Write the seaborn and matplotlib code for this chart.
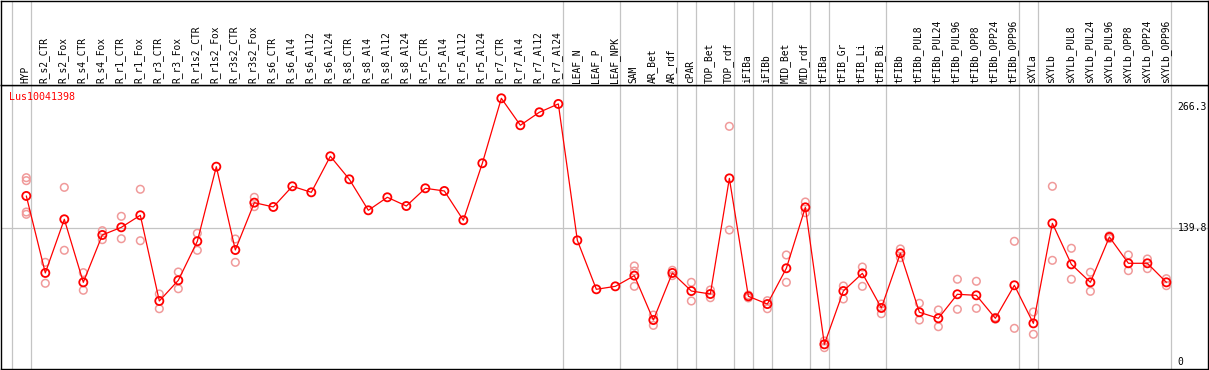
import pandas as pd
import matplotlib
matplotlib.use("Agg")
import matplotlib.pyplot as plt
import seaborn as sns

# sample names along the top
labels = ["HYP", "R_s2_CTR", "R_s2_Fox", "R_s4_CTR", "R_s4_Fox", "R_r1_CTR", "R_r1_Fox",
          "R_r3_CTR", "R_r3_Fox", "R_r1s2_CTR", "R_r1s2_Fox", "R_r3s2_CTR", "R_r3s2_Fox",
          "R_s6_CTR", "R_s6_Al4", "R_s6_Al12", "R_s6_Al24", "R_s8_CTR", "R_s8_Al4",
          "R_s8_Al12", "R_s8_Al24", "R_r5_CTR", "R_r5_Al4", "R_r5_Al12", "R_r5_Al24",
          "R_r7_CTR", "R_r7_Al4", "R_r7_Al12", "R_r7_Al24", "LEAF_N", "LEAF_P", "LEAF_NPK",
          "SAM", "AR_Bet", "AR_rdf", "cPAR", "TOP_Bet", "TOP_rdf", "iFIBa", "iFIBb",
          "MID_Bet", "MID_rdf", "tFIBa", "tFIB_Gr", "tFIB_Li", "tFIB_Bi", "tFIBb",
          "tFIBb_PUL8", "tFIBb_PUL24", "tFIBb_PUL96", "tFIBb_OPP8", "tFIBb_OPP24",
          "tFIBb_OPP96", "sXYLa", "sXYLb", "sXYLb_PUL8", "sXYLb_PUL24", "sXYLb_PUL96",
          "sXYLb_OPP8", "sXYLb_OPP24", "sXYLb_OPP96"]

# mean expression per sample
means = [173.6, 93.1, 149.2, 83.3, 132.8, 140.8, 153.4, 63.8, 85.4, 126.2, 204.2, 117.1,
         166.6, 162.1, 183.7, 177.4, 215.1, 191.0, 158.6, 172.2, 163.1, 181.6, 178.8,
         148.2, 207.8, 275.7, 247.5, 261.1, 269.8, 127.2, 76.0, 79.1, 90.3, 43.9, 93.1,
         74.2, 71.1, 192.0, 68.7, 60.6, 98.0, 161.7, 18.5, 74.2, 92.7, 56.5, 113.7, 52.0,
         45.7, 70.8, 69.7, 45.7, 80.2, 40.4, 145.0, 102.1, 83.3, 130.7, 103.2, 103.2, 83.3]

# single replicates (only those visible)
replicates = {
    "HYP": [192.7, 189.6, 156.8, 154.4],
    "R_s2_CTR": [104.2, 82.3],
    "R_s2_Fox": [182.6, 116.8],
    "R_s4_CTR": [93.4, 75.0],
    "R_s4_Fox": [137.3, 127.9],
    "R_r1_CTR": [152.3, 128.9],
    "R_r1_Fox": [180.6, 126.8],
    "R_r3_CTR": [71.1, 55.7],
    "R_r3_Fox": [94.1, 76.6],
    "R_r1s2_CTR": [134.6, 116.8],
    "R_r3s2_CTR": [128.6, 104.2],
    "R_r3s2_Fox": [172.2, 162.4],
    "SAM": [100.4, 95.1, 79.1],
    "AR_Bet": [49.1, 38.3],
    "AR_rdf": [95.9, 90.3],
    "cPAR": [83.3, 63.8],
    "TOP_Bet": [75.3, 67.2],
    "TOP_rdf": [246.4, 138.0],
    "iFIBa": [70.0, 67.0],
    "iFIBb": [64.1, 55.7],
    "MID_Bet": [111.9, 83.3],
    "MID_rdf": [167.3, 156.1],
    "tFIBa": [22.0, 15.0],
    "tFIB_Gr": [79.5, 65.9],
    "tFIB_Li": [99.3, 79.1],
    "tFIB_Bi": [60.6, 50.5],
    "tFIBb": [118.2, 109.1],
    "tFIBb_PUL8": [61.4, 43.9],
    "tFIBb_PUL24": [54.4, 36.9],
    "tFIBb_PUL96": [86.5, 55.1],
    "tFIBb_OPP8": [84.4, 56.1],
    "tFIBb_OPP24": [46.6, 44.8],
    "tFIBb_OPP96": [126.2, 35.2],
    "sXYLa": [52.3, 29.0],
    "sXYLb": [183.7, 106.3],
    "sXYLb_PUL8": [118.9, 86.5],
    "sXYLb_PUL24": [93.8, 73.9],
    "sXYLb_PUL96": [131.9, 129.1],
    "sXYLb_OPP8": [111.9, 95.5],
    "sXYLb_OPP24": [107.7, 97.6],
    "sXYLb_OPP96": [87.1, 79.8],
}

# group separators come after these samples
group_ends = ["HYP", "R_r7_Al24", "LEAF_NPK", "AR_rdf", "cPAR", "TOP_rdf", "iFIBa",
              "iFIBb", "MID_rdf", "tFIBa", "tFIB_Bi", "tFIBb_OPP96", "sXYLa", "sXYLb_OPP96"]

y_ticks = [266.3, 139.8, 0]
gene = "Lus10041398"

mean_df = pd.DataFrame({"idx": range(len(labels)), "value": means})
rep_rows = [(labels.index(k), v) for k, vals in replicates.items() for v in vals]
rep_df = pd.DataFrame(rep_rows, columns=["idx", "value"])

sns.set_style("white")
plt.rcParams["font.family"] = ["DejaVu Sans Mono"]

W, H = 1209, 370
fig = plt.figure(figsize=(W / 100, H / 100), dpi=100)
ax = fig.add_axes([1 / W, 1 / H, 1207 / W, 284 / H])
ax_top = fig.add_axes([1 / W, 285 / H, 1207 / W, 84.5 / H], sharex=ax)

xlim = (-1.332, 62.19)
grid_c = "#c4c4c4"
seps = [-1] + [labels.index(g) for g in group_ends]
for a in (ax, ax_top):
    for s in seps:
        a.axvline(s + 0.23, color=grid_c, lw=0.9, zorder=0)
    for sp in a.spines.values():
        sp.set_color("black")
        sp.set_linewidth(1.0)
    a.tick_params(left=False, bottom=False, labelleft=False, labelbottom=False)
    a.set_xlabel("")
    a.set_ylabel("")

ax.axhline(139.8, color=grid_c, lw=0.9, zorder=0)

sns.scatterplot(data=rep_df, x="idx", y="value", ax=ax, marker="o", s=30,
                facecolor="none", edgecolor="#f09a9a", linewidth=1.1, zorder=2)
sns.lineplot(data=mean_df, x="idx", y="value", ax=ax, color="red", lw=0.9,
             estimator=None, sort=False, zorder=3)
sns.scatterplot(data=mean_df, x="idx", y="value", ax=ax, marker="o", s=34,
                facecolor="none", edgecolor="red", linewidth=1.3, zorder=4)

ax.set_xlim(*xlim)
ax.set_ylim(-7.32, 289.6)
ax.set_xlabel("")
ax.set_ylabel("")

for t in y_ticks:
    ax.text(60.6, t, f"{t:g}", ha="left", va="center", fontsize=7, color="black")

ax.text(8.5 / 1207, 0.975, gene, transform=ax.transAxes, ha="left", va="top",
        fontsize=7.2, color="red")

ax_top.set_ylim(0, 1)
for i, lab in enumerate(labels):
    ax_top.text(i - 0.05, 0.025, lab, rotation=90, ha="center", va="bottom",
                fontsize=6.9, color="black")

fig.savefig("out.png", dpi=100)
